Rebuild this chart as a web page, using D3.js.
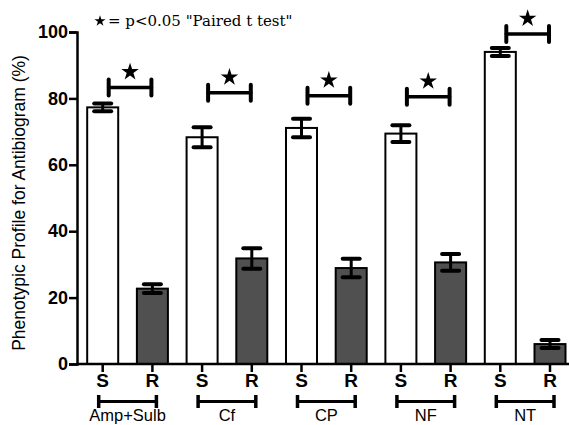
<!DOCTYPE html>
<html>
<head>
<meta charset="utf-8">
<script src="https://cdn.jsdelivr.net/npm/d3@7"></script>
<style>
  html, body { margin: 0; padding: 0; background: #fff; }
  svg { display: block; }
</style>
</head>
<body>
<div id="chart"></div>
<script>
// ---- data ----
const groups = ["Amp+Sulb", "Cf", "CP", "NF", "NT"];
const barLabels = ["S", "R"];
const sensitive = [77.3, 68.3, 71.1, 69.4, 94.0];
const sensitiveErr = [1.2, 3.0, 2.8, 2.5, 1.2];
const resistant = [22.7, 31.8, 28.9, 30.6, 6.0];
const resistantErr = [1.3, 3.1, 2.8, 2.5, 1.2];
const sigHeights = [83.3, 81.7, 80.8, 80.5, 99.4];
const yTicks = [0, 20, 40, 60, 80, 100];
const yTitle = "Phenotypic Profile for Antibiogram (%)";
const legendText = "= p<0.05 \"Paired t test\"";

// build bar table
const bars = [];
groups.forEach((g, i) => {
  bars.push({ id: g + "-S", group: g, gi: i, type: "S", value: sensitive[i], err: sensitiveErr[i] });
  bars.push({ id: g + "-R", group: g, gi: i, type: "R", value: resistant[i], err: resistantErr[i] });
});

const W = 569, H = 425;
const svg = d3.select("#chart").append("svg").attr("width", W).attr("height", H);

const x0 = 77, yBottom = 364, yTop = 32;
const x = d3.scaleBand().domain(bars.map(d => d.id))
  .range([x0, 575.7]).paddingInner(0.376).paddingOuter(0.205);
const cx = id => x(id) + x.bandwidth() / 2;
const y = d3.scaleLinear().domain([0, 100]).range([yBottom, yTop]);

// bars
svg.append("g").selectAll("rect").data(bars).join("rect")
  .attr("x", d => x(d.id))
  .attr("y", d => y(d.value))
  .attr("width", x.bandwidth())
  .attr("height", d => y(0) - y(d.value))
  .attr("fill", d => d.type === "S" ? "#ffffff" : "#505050")
  .attr("stroke", "#000").attr("stroke-width", 2);

// error bars
const eg = svg.append("g").attr("stroke", "#000").attr("stroke-linecap", "round");
bars.forEach(d => {
  const c = cx(d.id);
  eg.append("line").attr("x1", c).attr("x2", c)
    .attr("y1", y(d.value + d.err)).attr("y2", y(d.value - d.err)).attr("stroke-width", 3);
  [d.value + d.err, d.value - d.err].forEach(v => {
    eg.append("line").attr("x1", c - 8.5).attr("x2", c + 8.5)
      .attr("y1", y(v)).attr("y2", y(v)).attr("stroke-width", 4);
  });
});

// y axis
const yAxis = d3.axisLeft(y).tickValues(yTicks).tickSize(8).tickPadding(1);
const ya = svg.append("g").attr("transform", `translate(${x0},0)`).call(yAxis);
ya.select(".domain").attr("stroke-width", 2.5).attr("stroke", "#000");
ya.selectAll(".tick line").attr("stroke-width", 2.5).attr("stroke", "#000");
ya.selectAll(".tick text").attr("font-family", "Liberation Sans, Arial, sans-serif")
  .attr("font-size", 18).attr("font-weight", "bold").attr("fill", "#000");

// x axis
const xAxis = d3.axisBottom(x).tickSize(8).tickSizeOuter(0).tickFormat(id => id.endsWith("-S") ? "S" : "R").tickPadding(2);
const xa = svg.append("g").attr("transform", `translate(0,${yBottom})`).call(xAxis);
xa.select(".domain").attr("d", `M${x0},0H${W}`).attr("stroke-width", 2.5).attr("stroke", "#000");
xa.selectAll(".tick line").attr("stroke-width", 2.5).attr("stroke", "#000");
xa.selectAll(".tick text").attr("font-family", "Liberation Sans, Arial, sans-serif")
  .attr("font-size", 19).attr("font-weight", "bold").attr("fill", "#000");

// y title
svg.append("text")
  .attr("transform", `translate(25,203) rotate(-90)`)
  .attr("text-anchor", "middle")
  .attr("font-family", "Liberation Sans, Arial, sans-serif")
  .attr("font-size", 17.5).attr("fill", "#000")
  .text(yTitle);

// group brackets + labels
const gb = svg.append("g").attr("stroke", "#000").attr("stroke-width", 3).attr("stroke-linecap", "butt");
groups.forEach((g, i) => {
  const a = cx(g + "-S") - 4, b = cx(g + "-R") + 4, yy = 401.5;
  gb.append("line").attr("x1", a).attr("x2", b).attr("y1", yy).attr("y2", yy);
  gb.append("line").attr("x1", a).attr("x2", a).attr("y1", yy - 6.5).attr("y2", yy + 6.5).attr("stroke-width", 3.5);
  gb.append("line").attr("x1", b).attr("x2", b).attr("y1", yy - 6.5).attr("y2", yy + 6.5).attr("stroke-width", 3.5);
  svg.append("text").attr("x", (a + b) / 2).attr("y", 420.5)
    .attr("text-anchor", "middle")
    .attr("font-family", "Liberation Sans, Arial, sans-serif")
    .attr("font-size", 16.5).attr("fill", "#000").text(g);
});

// significance brackets + stars
const star = d3.symbol().type(d3.symbolStar);
const sg = svg.append("g").attr("stroke", "#000").attr("stroke-linecap", "round");
groups.forEach((g, i) => {
  const a = cx(g + "-S") + 6, b = cx(g + "-R") - 1, yy = y(sigHeights[i]);
  sg.append("line").attr("x1", a).attr("x2", b).attr("y1", yy).attr("y2", yy).attr("stroke-width", 3.5);
  sg.append("line").attr("x1", a).attr("x2", a).attr("y1", yy - 8).attr("y2", yy + 8).attr("stroke-width", 4);
  sg.append("line").attr("x1", b).attr("x2", b).attr("y1", yy - 8).attr("y2", yy + 8).attr("stroke-width", 4);
  svg.append("path").attr("d", star.size(95)())
    .attr("transform", `translate(${(a + b) / 2},${yy - 15.5})`)
    .attr("fill", "#000");
});

// legend
svg.append("path").attr("d", star.size(38)())
  .attr("transform", "translate(100,21)").attr("fill", "#000");
svg.append("text").attr("x", 108).attr("y", 25.5)
  .attr("font-family", "DejaVu Serif, serif")
  .attr("font-size", 15).attr("fill", "#000")
  .text(legendText);
</script>
</body>
</html>
